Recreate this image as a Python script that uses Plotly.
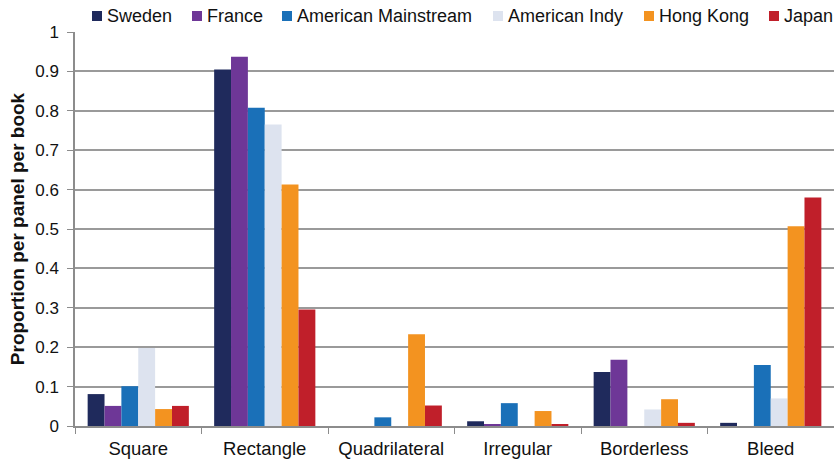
import plotly.graph_objects as go

categories = ["Square", "Rectangle", "Quadrilateral", "Irregular", "Borderless", "Bleed"]

series_names = ["Sweden", "France", "American Mainstream", "American Indy", "Hong Kong", "Japan"]
sweden = [0.081, 0.905, 0.0, 0.012, 0.137, 0.008]
france = [0.051, 0.937, 0.0, 0.004, 0.168, 0.0]
american_mainstream = [0.101, 0.808, 0.022, 0.058, 0.0, 0.155]
american_indy = [0.198, 0.765, 0.0, 0.0, 0.042, 0.070]
hong_kong = [0.043, 0.613, 0.233, 0.038, 0.068, 0.507]
japan = [0.051, 0.296, 0.052, 0.004, 0.008, 0.580]

series_values = [sweden, france, american_mainstream, american_indy, hong_kong, japan]
series_colors = ["#1f2a5c", "#6e3797", "#1a70b8", "#dde3ef", "#f39320", "#c01f2a"]

y_tick_vals = [0, 0.1, 0.2, 0.3, 0.4, 0.5, 0.6, 0.7, 0.8, 0.9, 1.0]
y_tick_text = ["0", "0.1", "0.2", "0.3", "0.4", "0.5", "0.6", "0.7", "0.8", "0.9", "1"]

W, H = 834, 462
M_L, M_R, M_T, M_B = 75, 0, 32, 36
plot_w = W - M_L - M_R
plot_h = H - M_T - M_B

def px_to_paper_x(px):
    return (px - M_L) / plot_w

def px_to_paper_y(py):
    return (H - M_B - py) / plot_h

fig = go.Figure()
for name, vals, color in zip(series_names, series_values, series_colors):
    fig.add_trace(go.Bar(name=name, x=categories, y=vals, marker_color=color,
                         marker_line_width=0, showlegend=False))

# Single-row key above the plot: small colour square followed by the series name
key_left_px = [92, 192, 282, 493, 644, 769]
key_box = 10
key_top_px, key_mid_px = 11, 16
shapes, annotations = [], []
for name, color, left in zip(series_names, series_colors, key_left_px):
    shapes.append(dict(type="rect", xref="paper", yref="paper",
                       x0=px_to_paper_x(left), x1=px_to_paper_x(left + key_box),
                       y0=px_to_paper_y(key_top_px + key_box), y1=px_to_paper_y(key_top_px),
                       fillcolor=color, line_width=0, layer="above"))
    annotations.append(dict(text=name, xref="paper", yref="paper",
                            x=px_to_paper_x(left + key_box + 3), y=px_to_paper_y(key_mid_px),
                            xanchor="left", yanchor="middle", showarrow=False,
                            font=dict(size=18, color="#111111")))

font_family = "Liberation Sans, Arial, sans-serif"
fig.update_layout(
    width=W, height=H,
    margin=dict(l=M_L, r=M_R, t=M_T, b=M_B),
    paper_bgcolor="white", plot_bgcolor="white",
    barmode="group", bargap=0.2, bargroupgap=0,
    font=dict(family=font_family, size=17, color="#111111"),
    shapes=shapes, annotations=annotations,
    xaxis=dict(type="category", showgrid=False, showline=True, linecolor="#8c8c8c",
               linewidth=1.5, ticks="outside", tickson="boundaries", ticklen=6,
               tickcolor="#8c8c8c", tickfont=dict(size=18.5), ticklabelstandoff=5),
    yaxis=dict(range=[0, 1.0], tickvals=y_tick_vals, ticktext=y_tick_text,
               showgrid=True, gridcolor="#9a9a9a", gridwidth=1.5,
               showline=True, linecolor="#8c8c8c", linewidth=1.5,
               ticks="outside", ticklen=6, tickcolor="#8c8c8c",
               tickfont=dict(size=17), zeroline=False, ticklabelstandoff=5,
               title=dict(text="<b>Proportion per panel per book</b>",
                          font=dict(size=19), standoff=6)),
)

fig.write_html("out.html")
